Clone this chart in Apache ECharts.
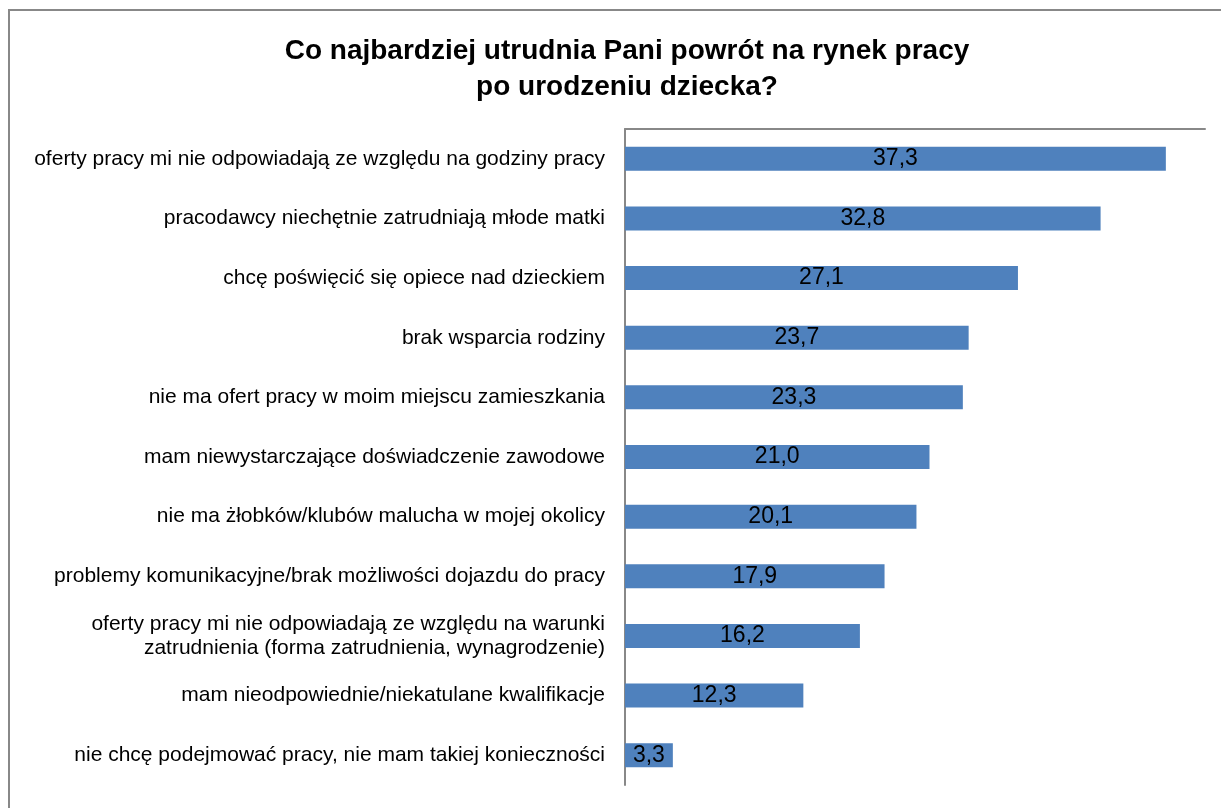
<!DOCTYPE html>
<html>
<head>
<meta charset="utf-8">
<script src="https://cdn.jsdelivr.net/npm/echarts@6/dist/echarts.min.js"></script>
<style>
  html, body { margin: 0; padding: 0; background: #fff; }
  #chart { width: 1221px; height: 808px; }
</style>
</head>
<body>
<div id="chart"></div>
<script>
// Survey answers, top to bottom
const categories = [
  'oferty pracy mi nie odpowiadają ze względu na godziny pracy',
  'pracodawcy niechętnie zatrudniają młode matki',
  'chcę poświęcić się opiece nad dzieckiem',
  'brak wsparcia rodziny',
  'nie ma ofert pracy w moim miejscu zamieszkania',
  'mam niewystarczające doświadczenie zawodowe',
  'nie ma żłobków/klubów malucha w mojej okolicy',
  'problemy komunikacyjne/brak możliwości dojazdu do pracy',
  'oferty pracy mi nie odpowiadają ze względu na warunki\nzatrudnienia (forma zatrudnienia, wynagrodzenie)',
  'mam nieodpowiednie/niekatulane kwalifikacje',
  'nie chcę podejmować pracy, nie mam takiej konieczności'
];
// Percent of respondents
const values = [37.3, 32.8, 27.1, 23.7, 23.3, 21.0, 20.1, 17.9, 16.2, 12.3, 3.3];

const titleLines = 'Co najbardziej utrudnia Pani powrót na rynek pracy\npo urodzeniu dziecka?';

const FONT = 'Liberation Sans, Arial, sans-serif';

const chart = echarts.init(document.getElementById('chart'), null, { renderer: 'canvas' });
chart.setOption({
  animation: false,
  backgroundColor: '#ffffff',
  textStyle: { fontFamily: FONT },
  title: {
    text: titleLines,
    left: 622,
    textAlign: 'center',
    top: 28,
    textStyle: {
      fontFamily: FONT,
      fontSize: 28,
      fontWeight: 'bold',
      color: '#000',
      lineHeight: 36
    }
  },
  graphic: [{
    type: 'rect',
    shape: { x: 9, y: 10, width: 1260, height: 860 },
    style: { fill: 'none', stroke: '#888888', lineWidth: 2 },
    silent: true,
    z: -1
  }],
  grid: { left: 625, top: 129, right: 16, bottom: 23, containLabel: false },
  xAxis: {
    type: 'value',
    position: 'top',
    min: 0,
    max: 40,
    axisLine: { show: true, lineStyle: { color: '#888888', width: 2 } },
    axisTick: { show: false },
    axisLabel: { show: false },
    splitLine: { show: false }
  },
  yAxis: {
    type: 'category',
    inverse: true,
    data: categories,
    axisLine: { show: true, lineStyle: { color: '#888888', width: 2 } },
    axisTick: { show: false },
    axisLabel: {
      margin: 20,
      fontSize: 21,
      color: '#000',
      align: 'right',
      lineHeight: 24,
      fontFamily: FONT
    }
  },
  series: [{
    type: 'bar',
    data: values,
    barWidth: 24,
    itemStyle: { color: '#4F81BD' },
    label: {
      show: true,
      position: 'inside',
      color: '#000',
      fontSize: 23,
      fontFamily: FONT,
      formatter: p => p.value.toFixed(1).replace('.', ',')
    }
  }]
});
</script>
</body>
</html>
